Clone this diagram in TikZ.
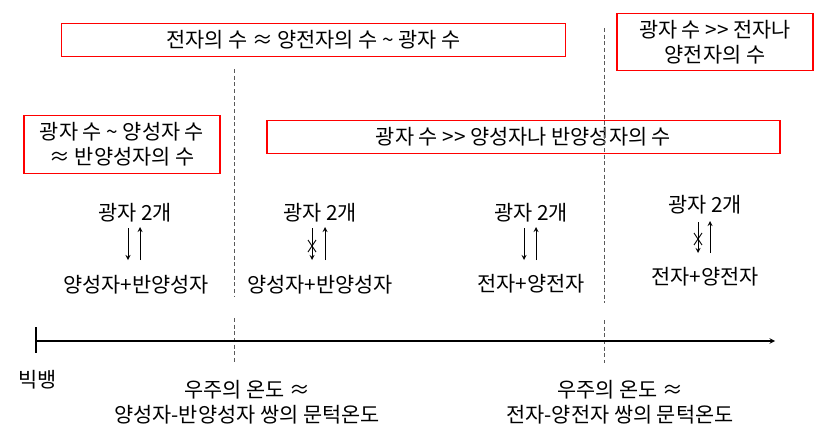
\documentclass[tikz,border=0pt]{standalone}
\usepackage{fontspec}
\setmainfont{Noto Sans CJK KR}
\begin{document}
\begin{tikzpicture}[>=stealth, x=0.75pt, y=-0.75pt,
  every node/.style={font=\fontsize{15.6}{19}\selectfont, inner sep=0pt, align=center},
  redbox/.style={draw=red, line width=0.9pt},
  sep/.style={dashed, dash pattern=on 3pt off 2pt, gray!70!black, line width=0.6pt},
  pair/.style={->, line width=0.7pt}]
\useasboundingbox (0,0) rectangle (838,446);

% ratios of the particle numbers
\node[redbox, minimum width=377.6pt, minimum height=25pt] (ee) at (313.5,40) {전자의 수 ≈ 양전자의 수 \textasciitilde{} 광자 수};
\node[redbox, minimum width=147pt, minimum height=43pt] (ee2) at (715,42) {광자 수 >{}> 전자나\\양전자의 수};
\node[redbox, minimum width=147pt, minimum height=43pt] (pp) at (122,144.5) {광자 수 \textasciitilde{} 양성자 수\\≈ 반양성자의 수};
\node[redbox, minimum width=384.8pt, minimum height=25pt] (pp2) at (523.5,137) {광자 수 >{}> 양성자나 반양성자의 수};

% threshold lines
\coordinate (t1a) at (234,69);
\coordinate (t1b) at (234,297);
\coordinate (t1c) at (234,318);
\coordinate (t1d) at (234,363);
\coordinate (t2a) at (604,28);
\coordinate (t2b) at (604,303);
\coordinate (t2c) at (604,320);
\coordinate (t2d) at (604,363);
\draw[sep] (t1a) -- (t1b);
\draw[sep] (t1c) -- (t1d);
\draw[sep] (t2a) -- (t2b);
\draw[sep] (t2c) -- (t2d);

% photons <-> pairs
\node (g1) at (135,213) {광자 2개};
\node (p1) at (136,285) {양성자+반양성자};
\node (g2) at (320,213) {광자 2개};
\node (p2) at (320,285) {양성자+반양성자};
\node (g3) at (531,213) {광자 2개};
\node (p3) at (531,284) {전자+양전자};
\node (g4) at (705,205) {광자 2개};
\node (p4) at (705,277) {전자+양전자};

\draw[pair] (128,228) -- (128,260);
\draw[pair] (140,260) -- (140,227);
\draw[pair] (312,228) -- (312,260);
\draw[pair] (325,260) -- (325,227);
\draw[pair] (524,228) -- (524,260);
\draw[pair] (536,260) -- (536,227);
\draw[pair] (698,222) -- (698,253);
\draw[pair] (710,253) -- (710,221);

% no pair production
\draw[line width=0.7pt] (312,246) + (-4,-6) -- +(4,6);
\draw[line width=0.7pt] (312,246) + (4,-6) -- +(-4,6);
\draw[line width=0.7pt] (698,239) + (-4,-6) -- +(4,6);
\draw[line width=0.7pt] (698,239) + (4,-6) -- +(-4,6);

% time axis
\coordinate (bang) at (36,341);
\coordinate (now) at (775,341);
\draw[->, line width=0.8pt] (bang) -- (now);
\draw[line width=0.8pt] (bang) + (0,-14) -- +(0,12);

\node (bb) at (38,380) {빅뱅};
\node (T1) at (247,402) {우주의 온도 ≈\\양성자-반양성자 쌍의 문턱온도};
\node (T2) at (620,402) {우주의 온도 ≈\\전자-양전자 쌍의 문턱온도};
\end{tikzpicture}
\end{document}
